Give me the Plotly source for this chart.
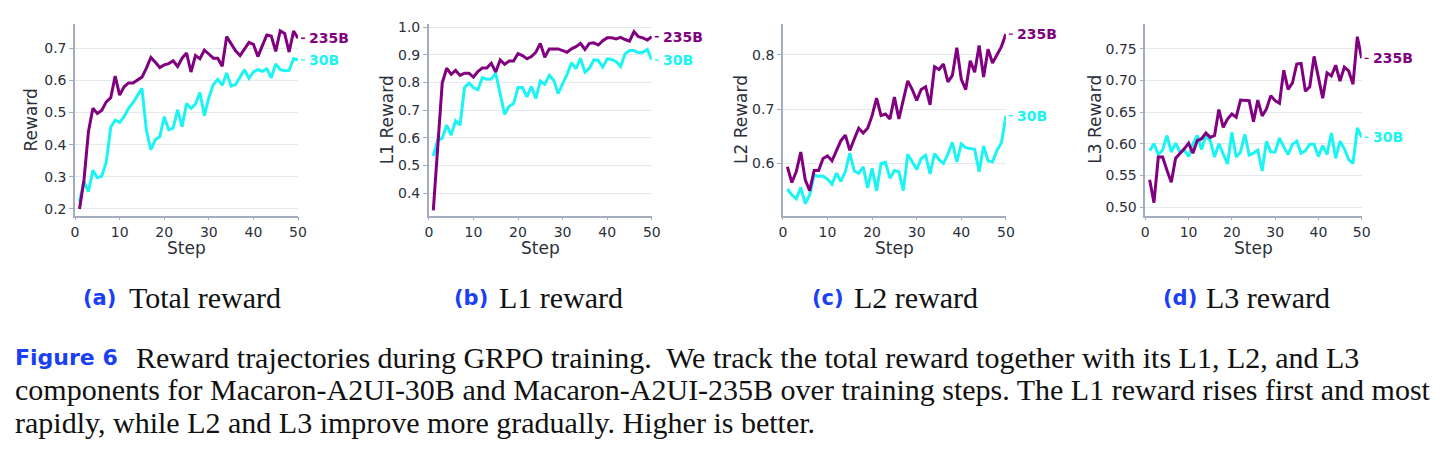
import plotly.graph_objects as go

# ---------------- data ----------------
steps = list(range(1, 51))
x_ticks = [0, 10, 20, 30, 40, 50]

total_235b = [0.200, 0.290, 0.440, 0.513, 0.497, 0.507, 0.533, 0.546, 0.613, 0.554,
              0.580, 0.592, 0.592, 0.600, 0.610, 0.638, 0.671, 0.656, 0.640, 0.648,
              0.652, 0.661, 0.643, 0.669, 0.685, 0.626, 0.677, 0.667, 0.694, 0.682,
              0.669, 0.669, 0.644, 0.736, 0.715, 0.692, 0.677, 0.698, 0.718, 0.712,
              0.674, 0.708, 0.741, 0.738, 0.690, 0.754, 0.746, 0.688, 0.753, 0.731]
total_30b = [0.223, 0.285, 0.254, 0.320, 0.297, 0.302, 0.346, 0.454, 0.476, 0.469,
             0.487, 0.513, 0.531, 0.554, 0.575, 0.444, 0.384, 0.415, 0.425, 0.487,
             0.446, 0.452, 0.508, 0.456, 0.528, 0.513, 0.526, 0.562, 0.490, 0.546,
             0.587, 0.603, 0.585, 0.623, 0.582, 0.587, 0.610, 0.633, 0.606, 0.626,
             0.633, 0.628, 0.636, 0.608, 0.651, 0.633, 0.630, 0.631, 0.667, 0.664]

l1_235b = [0.337, 0.568, 0.798, 0.852, 0.830, 0.844, 0.826, 0.834, 0.834, 0.820,
           0.840, 0.853, 0.853, 0.870, 0.838, 0.882, 0.866, 0.878, 0.878, 0.905,
           0.898, 0.886, 0.894, 0.910, 0.942, 0.892, 0.922, 0.922, 0.922, 0.916,
           0.910, 0.922, 0.930, 0.942, 0.920, 0.942, 0.944, 0.936, 0.952, 0.962,
           0.962, 0.958, 0.964, 0.956, 0.950, 0.984, 0.966, 0.962, 0.954, 0.966]
l1_30b = [0.534, 0.592, 0.598, 0.646, 0.610, 0.662, 0.646, 0.782, 0.798, 0.782,
          0.774, 0.818, 0.812, 0.813, 0.834, 0.754, 0.685, 0.714, 0.724, 0.782,
          0.782, 0.748, 0.786, 0.742, 0.806, 0.794, 0.826, 0.808, 0.760, 0.796,
          0.830, 0.872, 0.850, 0.888, 0.838, 0.852, 0.882, 0.880, 0.856, 0.886,
          0.884, 0.876, 0.858, 0.904, 0.916, 0.916, 0.908, 0.910, 0.920, 0.882]

l2_235b = [0.594, 0.565, 0.585, 0.621, 0.570, 0.550, 0.587, 0.587, 0.609, 0.614,
           0.605, 0.624, 0.642, 0.652, 0.624, 0.645, 0.665, 0.656, 0.665, 0.688,
           0.720, 0.688, 0.691, 0.682, 0.722, 0.682, 0.715, 0.752, 0.736, 0.716,
           0.736, 0.741, 0.708, 0.778, 0.773, 0.783, 0.750, 0.762, 0.813, 0.755,
           0.736, 0.789, 0.768, 0.817, 0.759, 0.810, 0.785, 0.800, 0.815, 0.838]
l2_30b = [0.553, 0.542, 0.535, 0.556, 0.526, 0.542, 0.579, 0.576, 0.577, 0.571,
          0.562, 0.582, 0.567, 0.585, 0.619, 0.586, 0.582, 0.594, 0.555, 0.591,
          0.550, 0.600, 0.602, 0.573, 0.587, 0.585, 0.550, 0.617, 0.603, 0.589,
          0.609, 0.615, 0.581, 0.618, 0.607, 0.600, 0.617, 0.639, 0.603, 0.636,
          0.629, 0.628, 0.626, 0.585, 0.632, 0.605, 0.603, 0.624, 0.638, 0.688]

l3_235b = [0.543, 0.507, 0.579, 0.579, 0.558, 0.539, 0.577, 0.584, 0.592, 0.601,
           0.585, 0.605, 0.608, 0.617, 0.610, 0.613, 0.654, 0.626, 0.639, 0.647,
           0.642, 0.669, 0.669, 0.668, 0.635, 0.669, 0.644, 0.655, 0.676, 0.668,
           0.664, 0.716, 0.686, 0.696, 0.726, 0.727, 0.683, 0.690, 0.738, 0.702,
           0.672, 0.712, 0.707, 0.724, 0.699, 0.721, 0.715, 0.694, 0.769, 0.735]
l3_30b = [0.589, 0.600, 0.583, 0.590, 0.613, 0.587, 0.601, 0.587, 0.590, 0.580,
          0.600, 0.613, 0.591, 0.613, 0.605, 0.579, 0.600, 0.583, 0.568, 0.618,
          0.579, 0.587, 0.615, 0.582, 0.585, 0.590, 0.557, 0.604, 0.587, 0.587,
          0.609, 0.595, 0.583, 0.599, 0.604, 0.585, 0.589, 0.599, 0.599, 0.580,
          0.597, 0.583, 0.617, 0.577, 0.604, 0.592, 0.575, 0.569, 0.625, 0.610]

series_labels = ["235B", "30B"]
y_titles = ["Reward", "L1 Reward", "L2 Reward", "L3 Reward"]
sub_letters = ["(a)", "(b)", "(c)", "(d)"]
sub_titles = ["Total reward", "L1 reward", "L2 reward", "L3 reward"]
y_tickvals = [[0.2, 0.3, 0.4, 0.5, 0.6, 0.7],
              [0.4, 0.5, 0.6, 0.7, 0.8, 0.9, 1.0],
              [0.6, 0.7, 0.8],
              [0.50, 0.55, 0.60, 0.65, 0.70, 0.75]]
y_tickfmt = [".1f", ".1f", ".1f", ".2f"]
caption_lines = [
    "Reward trajectories during GRPO training.  We track the total reward together with its L1, L2, and L3",
    "components for Macaron-A2UI-30B and Macaron-A2UI-235B over training steps. The L1 reward rises first and most",
    "rapidly, while L2 and L3 improve more gradually. Higher is better.",
]

# ---------------- layout / style ----------------
W, H = 1443, 455
def px(x):
    return x / W
def py(y):
    return 1 - y / H

PURPLE = "#800080"
CYAN = "#1CF4F4"
BLUE = "#1B3FF5"
TXT = "#2b2f3a"
AXIS = "#A3ADBD"
GRID = "#E4E8EF"

panels = [
    dict(x0=71.7, x1=296.7, yr=[0.179, 0.776], d235=total_235b, d30=total_30b,
         ytx=27, sub_l=78, sub_t=124),
    dict(x0=428.7, x1=653.7, yr=[0.318, 1.013], d235=l1_235b, d30=l1_30b,
         ytx=386, sub_l=452, sub_t=497),
    dict(x0=786.0, x1=1011.0, yr=[0.504, 0.857], d235=l2_235b, d30=l2_30b,
         ytx=743, sub_l=813, sub_t=856),
    dict(x0=1151.7, x1=1370.0, yr=[0.4864, 0.7895], d235=l3_235b, d30=l3_30b,
         ytx=1101, sub_l=1168, sub_t=1211),
]
PLOT_TOP, PLOT_BOT = 20, 214

fig = go.Figure()
annotations = []
layout_axes = {}

for i, p in enumerate(panels):
    sfx = "" if i == 0 else str(i + 1)
    xref = "x" + sfx
    yref = "y" + sfx
    fig.add_trace(go.Scatter(x=steps, y=p["d30"], mode="lines",
                             line=dict(color=CYAN, width=3), xaxis=xref, yaxis=yref,
                             showlegend=False, name=series_labels[1]))
    fig.add_trace(go.Scatter(x=steps, y=p["d235"], mode="lines",
                             line=dict(color=PURPLE, width=3), xaxis=xref, yaxis=yref,
                             showlegend=False, name=series_labels[0]))
    layout_axes["xaxis" + sfx] = dict(
        domain=[px(p["x0"]), px(p["x1"])], anchor=yref, range=[0, 50],
        tickvals=x_ticks, showgrid=False, zeroline=False,
        showline=True, linecolor=AXIS, linewidth=1.5,
        ticks="outside", ticklen=3, tickcolor=AXIS, tickwidth=1,
        tickfont=dict(family="DejaVu Sans", size=14, color=TXT))
    layout_axes["yaxis" + sfx] = dict(
        domain=[py(PLOT_BOT), py(PLOT_TOP)], anchor=xref, range=p["yr"],
        tickvals=y_tickvals[i], tickformat=y_tickfmt[i],
        showgrid=True, gridcolor=GRID, gridwidth=1, zeroline=False,
        showline=True, linecolor=AXIS, linewidth=1.5,
        ticks="outside", ticklen=4, tickcolor=AXIS, tickwidth=1,
        tickfont=dict(family="DejaVu Sans", size=14, color=TXT))

    # end labels
    for vals, lab, col in [(p["d235"], series_labels[0], PURPLE), (p["d30"], series_labels[1], CYAN)]:
        annotations.append(dict(
            x=steps[-1], y=vals[-1], xref=xref, yref=yref,
            text="<b>" + lab + "</b>", showarrow=True, arrowhead=0, arrowwidth=1.3,
            arrowcolor=col, ax=7, ay=0, standoff=3, xanchor="left", yanchor="middle",
            borderpad=3, font=dict(family="DejaVu Sans", size=14, color=col)))

    # axis titles
    annotations.append(dict(x=px(p["ytx"]), y=py((PLOT_TOP + PLOT_BOT) / 2), xref="paper", yref="paper",
                            text=y_titles[i], textangle=-90, showarrow=False,
                            xanchor="center", yanchor="middle",
                            font=dict(family="DejaVu Sans", size=17, color=TXT)))
    annotations.append(dict(x=px((p["x0"] + p["x1"]) / 2), y=py(247), xref="paper", yref="paper",
                            text="Step", showarrow=False, xanchor="center", yanchor="middle",
                            font=dict(family="DejaVu Sans", size=17, color=TXT)))
    # subcaptions
    annotations.append(dict(x=px(p["sub_l"]), y=py(297), xref="paper", yref="paper",
                            text="<b>" + sub_letters[i] + "</b>", showarrow=False,
                            xanchor="left", yanchor="middle",
                            font=dict(family="DejaVu Sans", size=21, color=BLUE)))
    annotations.append(dict(x=px(p["sub_t"]), y=py(297), xref="paper", yref="paper",
                            text=sub_titles[i], showarrow=False,
                            xanchor="left", yanchor="middle",
                            font=dict(family="Liberation Serif", size=30, color="#111111")))

# figure caption
annotations.append(dict(x=px(9), y=py(357), xref="paper", yref="paper",
                        text="<b>Figure 6</b>", showarrow=False, xanchor="left", yanchor="middle",
                        font=dict(family="DejaVu Sans", size=22, color=BLUE)))
cap_x = [131, 9, 9]
cap_y = [357, 390, 423]
for t, cx, cy in zip(caption_lines, cap_x, cap_y):
    annotations.append(dict(x=px(cx), y=py(cy), xref="paper", yref="paper",
                            text=t, showarrow=False, xanchor="left", yanchor="middle",
                            font=dict(family="Liberation Serif", size=30, color="#111111")))

fig.update_layout(
    width=W, height=H, margin=dict(l=0, r=0, t=0, b=0),
    paper_bgcolor="white", plot_bgcolor="white",
    annotations=annotations, showlegend=False,
    **layout_axes)

fig.write_html("out.html")
